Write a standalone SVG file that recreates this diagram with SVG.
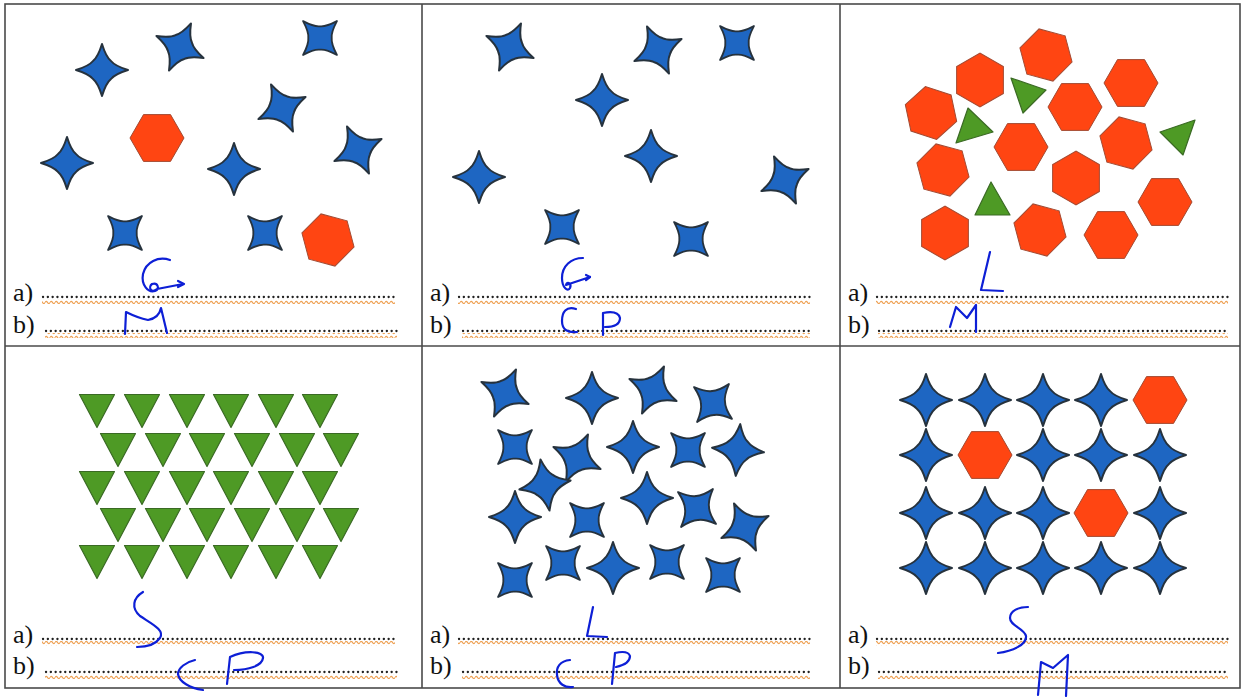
<svg xmlns="http://www.w3.org/2000/svg" width="1242" height="697" viewBox="0 0 1242 697">
<style>
.st{fill:#1E66C2;stroke:#26323d;stroke-width:2;stroke-linejoin:round}
.hx{fill:#FF4512;stroke:#a34a32;stroke-width:1}
.tr{fill:#4E9A25;stroke:#3a6a24;stroke-width:1.2;stroke-linejoin:round}
.lbl{font-family:"Liberation Serif",serif;font-size:26px;fill:#111}
.dots{stroke:#222;stroke-width:2.3;stroke-dasharray:0.1 4.7;stroke-linecap:round}
.ink{fill:none;stroke:#0d1fd6;stroke-width:2.2;stroke-linecap:round;stroke-linejoin:round}
.bd{stroke:#4a4a4a;stroke-width:1.6;fill:none}
</style>
<defs>
<path id="star" d="M0,-26 Q4,-13 9,-9 Q13,-4 26,0 Q13,4 9,9 Q4,13 0,26 Q-4,13 -9,9 Q-13,4 -26,0 Q-13,-4 -9,-9 Q-4,-13 0,-26Z"/>
<polygon id="hex" points="27,0 13.5,23.4 -13.5,23.4 -27,0 -13.5,-23.4 13.5,-23.4"/>
<polygon id="tri" points="-17.5,-16.5 17.5,-16.5 0,16.5"/>
<pattern id="wave" width="5" height="5" patternUnits="userSpaceOnUse">
<path d="M0,2.5 Q1.25,0.3 2.5,2.5 T5,2.5" fill="none" stroke="#eea052" stroke-width="1.2"/>
</pattern>
</defs>
<rect width="1242" height="697" fill="#fff"/>
<g id="grid">
<rect class="bd" x="5" y="4" width="1235" height="684"/>
<line class="bd" x1="422" y1="4" x2="422" y2="688"/>
<line class="bd" x1="840" y1="4" x2="840" y2="688"/>
<line class="bd" x1="5" y1="346" x2="1240" y2="346"/>
</g>
<g id="cell1">
<use href="#star" class="st" transform="translate(102,70)"/>
<use href="#star" class="st" transform="translate(180,47) rotate(25)"/>
<use href="#star" class="st" transform="translate(320,38) rotate(45) scale(0.92)"/>
<use href="#star" class="st" transform="translate(282,108) rotate(-25)"/>
<use href="#hex" class="hx" transform="translate(157,138)"/>
<use href="#star" class="st" transform="translate(67,163)"/>
<use href="#star" class="st" transform="translate(234,169)"/>
<use href="#star" class="st" transform="translate(358,150) rotate(-25)"/>
<use href="#star" class="st" transform="translate(125,233) rotate(45) scale(0.92)"/>
<use href="#star" class="st" transform="translate(265,233) rotate(45) scale(0.92)"/>
<use href="#hex" class="hx" transform="translate(328,240) rotate(15)"/>
</g>
<g id="cell2">
<use href="#star" class="st" transform="translate(510,47) rotate(25)"/>
<use href="#star" class="st" transform="translate(658,50) rotate(-25)"/>
<use href="#star" class="st" transform="translate(737,43) rotate(45) scale(0.92)"/>
<use href="#star" class="st" transform="translate(602,100)"/>
<use href="#star" class="st" transform="translate(651,156)"/>
<use href="#star" class="st" transform="translate(479,177)"/>
<use href="#star" class="st" transform="translate(785,180) rotate(-25)"/>
<use href="#star" class="st" transform="translate(562,227) rotate(45) scale(0.92)"/>
<use href="#star" class="st" transform="translate(691,239) rotate(45) scale(0.92)"/>
</g>
<g id="cell3">
<use href="#hex" class="hx" transform="translate(1046,55) rotate(15)"/>
<use href="#hex" class="hx" transform="translate(980,80) rotate(30)"/>
<use href="#hex" class="hx" transform="translate(1131,83)"/>
<use href="#hex" class="hx" transform="translate(931,113) rotate(18)"/>
<use href="#hex" class="hx" transform="translate(1075,107)"/>
<use href="#hex" class="hx" transform="translate(1021,147)"/>
<use href="#hex" class="hx" transform="translate(1126,143) rotate(15)"/>
<use href="#hex" class="hx" transform="translate(943,170) rotate(15)"/>
<use href="#hex" class="hx" transform="translate(1076,178) rotate(30)"/>
<use href="#hex" class="hx" transform="translate(1165,202)"/>
<use href="#hex" class="hx" transform="translate(945,233) rotate(30)"/>
<use href="#hex" class="hx" transform="translate(1040,230) rotate(15)"/>
<use href="#hex" class="hx" transform="translate(1111,235)"/>
<polygon class="tr" points="1011,78 1046,90 1023,113"/>
<polygon class="tr" points="968,108 993,132 956,143"/>
<polygon class="tr" points="1160,132 1195,120 1183,155"/>
<polygon class="tr" points="991,182 975,215 1010,215"/>
</g>
<g id="cell4">
<use href="#tri" class="tr" transform="translate(97,411)"/>
<use href="#tri" class="tr" transform="translate(142,411)"/>
<use href="#tri" class="tr" transform="translate(187,411)"/>
<use href="#tri" class="tr" transform="translate(231,411)"/>
<use href="#tri" class="tr" transform="translate(276,411)"/>
<use href="#tri" class="tr" transform="translate(320,411)"/>
<use href="#tri" class="tr" transform="translate(118,450)"/>
<use href="#tri" class="tr" transform="translate(163,450)"/>
<use href="#tri" class="tr" transform="translate(207,450)"/>
<use href="#tri" class="tr" transform="translate(252,450)"/>
<use href="#tri" class="tr" transform="translate(297,450)"/>
<use href="#tri" class="tr" transform="translate(341,450)"/>
<use href="#tri" class="tr" transform="translate(97,488)"/>
<use href="#tri" class="tr" transform="translate(142,488)"/>
<use href="#tri" class="tr" transform="translate(187,488)"/>
<use href="#tri" class="tr" transform="translate(231,488)"/>
<use href="#tri" class="tr" transform="translate(276,488)"/>
<use href="#tri" class="tr" transform="translate(320,488)"/>
<use href="#tri" class="tr" transform="translate(118,525)"/>
<use href="#tri" class="tr" transform="translate(163,525)"/>
<use href="#tri" class="tr" transform="translate(207,525)"/>
<use href="#tri" class="tr" transform="translate(252,525)"/>
<use href="#tri" class="tr" transform="translate(297,525)"/>
<use href="#tri" class="tr" transform="translate(341,525)"/>
<use href="#tri" class="tr" transform="translate(97,562)"/>
<use href="#tri" class="tr" transform="translate(142,562)"/>
<use href="#tri" class="tr" transform="translate(187,562)"/>
<use href="#tri" class="tr" transform="translate(231,562)"/>
<use href="#tri" class="tr" transform="translate(276,562)"/>
<use href="#tri" class="tr" transform="translate(320,562)"/>
</g>
<g id="cell5">
<use href="#star" class="st" transform="translate(505,393) rotate(25)"/>
<use href="#star" class="st" transform="translate(592,398)"/>
<use href="#star" class="st" transform="translate(653,390) rotate(25)"/>
<use href="#star" class="st" transform="translate(713,403) rotate(40) scale(0.95)"/>
<use href="#star" class="st" transform="translate(515,447) rotate(45) scale(0.92)"/>
<use href="#star" class="st" transform="translate(577,458) rotate(25)"/>
<use href="#star" class="st" transform="translate(633,447)"/>
<use href="#star" class="st" transform="translate(688,450) rotate(45) scale(0.92)"/>
<use href="#star" class="st" transform="translate(738,450) rotate(5)"/>
<use href="#star" class="st" transform="translate(545,485) rotate(-10)"/>
<use href="#star" class="st" transform="translate(515,517)"/>
<use href="#star" class="st" transform="translate(587,520) rotate(45) scale(0.92)"/>
<use href="#star" class="st" transform="translate(647,498)"/>
<use href="#star" class="st" transform="translate(697,508) rotate(40) scale(0.95)"/>
<use href="#star" class="st" transform="translate(745,527) rotate(-25)"/>
<use href="#star" class="st" transform="translate(515,580) rotate(45) scale(0.92)"/>
<use href="#star" class="st" transform="translate(563,563) rotate(45) scale(0.92)"/>
<use href="#star" class="st" transform="translate(613,568)"/>
<use href="#star" class="st" transform="translate(667,562) rotate(45) scale(0.92)"/>
<use href="#star" class="st" transform="translate(723,575) rotate(45) scale(0.92)"/>
</g>
<g id="cell6">
<use href="#star" class="st" transform="translate(926,400)"/>
<use href="#star" class="st" transform="translate(985,400)"/>
<use href="#star" class="st" transform="translate(1043,400)"/>
<use href="#star" class="st" transform="translate(1101,400)"/>
<use href="#hex" class="hx" transform="translate(1160,400)"/>
<use href="#star" class="st" transform="translate(926,455)"/>
<use href="#hex" class="hx" transform="translate(985,455)"/>
<use href="#star" class="st" transform="translate(1043,455)"/>
<use href="#star" class="st" transform="translate(1101,455)"/>
<use href="#star" class="st" transform="translate(1160,455)"/>
<use href="#star" class="st" transform="translate(926,513)"/>
<use href="#star" class="st" transform="translate(985,513)"/>
<use href="#star" class="st" transform="translate(1043,513)"/>
<use href="#hex" class="hx" transform="translate(1101,513)"/>
<use href="#star" class="st" transform="translate(1160,513)"/>
<use href="#star" class="st" transform="translate(926,568)"/>
<use href="#star" class="st" transform="translate(985,568)"/>
<use href="#star" class="st" transform="translate(1043,568)"/>
<use href="#star" class="st" transform="translate(1101,568)"/>
<use href="#star" class="st" transform="translate(1160,568)"/>
</g>
<g id="answer-lines">
<rect x="42" y="299" width="353" height="5" fill="url(#wave)"/>
<rect x="45" y="333" width="352" height="5" fill="url(#wave)"/>
<rect x="458" y="299" width="352" height="5" fill="url(#wave)"/>
<rect x="462" y="333" width="348" height="5" fill="url(#wave)"/>
<rect x="876" y="299" width="352" height="5" fill="url(#wave)"/>
<rect x="878" y="333" width="350" height="5" fill="url(#wave)"/>
<rect x="42" y="641" width="353" height="5" fill="url(#wave)"/>
<rect x="45" y="674" width="352" height="5" fill="url(#wave)"/>
<rect x="458" y="641" width="352" height="5" fill="url(#wave)"/>
<rect x="462" y="674" width="348" height="5" fill="url(#wave)"/>
<rect x="876" y="641" width="352" height="5" fill="url(#wave)"/>
<rect x="878" y="674" width="350" height="5" fill="url(#wave)"/>
<line class="dots" x1="43" y1="297" x2="395" y2="297"/>
<line class="dots" x1="46" y1="331" x2="397" y2="331"/>
<line class="dots" x1="459" y1="297" x2="810" y2="297"/>
<line class="dots" x1="463" y1="331" x2="810" y2="331"/>
<line class="dots" x1="877" y1="297" x2="1228" y2="297"/>
<line class="dots" x1="879" y1="331" x2="1228" y2="331"/>
<line class="dots" x1="43" y1="639" x2="395" y2="639"/>
<line class="dots" x1="46" y1="672" x2="397" y2="672"/>
<line class="dots" x1="459" y1="639" x2="810" y2="639"/>
<line class="dots" x1="463" y1="672" x2="810" y2="672"/>
<line class="dots" x1="877" y1="639" x2="1228" y2="639"/>
<line class="dots" x1="879" y1="672" x2="1228" y2="672"/>
</g>
<g id="labels">
<text class="lbl" x="13" y="301">a)</text>
<text class="lbl" x="13" y="333">b)</text>
<text class="lbl" x="430" y="301">a)</text>
<text class="lbl" x="430" y="333">b)</text>
<text class="lbl" x="848" y="301">a)</text>
<text class="lbl" x="848" y="333">b)</text>
<text class="lbl" x="13" y="643">a)</text>
<text class="lbl" x="13" y="674">b)</text>
<text class="lbl" x="430" y="643">a)</text>
<text class="lbl" x="430" y="674">b)</text>
<text class="lbl" x="848" y="643">a)</text>
<text class="lbl" x="848" y="674">b)</text>
</g>
<g id="handwriting">
<path class="ink" d="M170,260 C158,256 146,262 143,274 C141,285 148,293 155,291 C160,289 158,282 152,284 C148,287 151,294 157,289 L183,284"/>
<path class="ink" d="M178,281 L184,284 L178,287"/>
<path class="ink" d="M125,334 L126,312 Q138,318 148,320 Q159,318 161,308 L167,333"/>
<path class="ink" d="M583,258 C571,258 562,266 562,278 C562,288 568,292 570,288 C572,283 567,281 566,285 L590,277"/>
<path class="ink" d="M586,275 L590,277 L586,280"/>
<path class="ink" d="M576,309 C566,306 562,312 562,321 C562,330 568,333 577,332"/>
<path class="ink" d="M603,335 L603,313 Q618,310 620,318 Q620,327 605,327"/>
<path class="ink" d="M990,252 L981,290 L1003,291"/>
<path class="ink" d="M950,327 L956,307 L967,318 L976,305 L976,332"/>
<path class="ink" d="M143,592 C133,598 131,608 140,616 C152,624 165,630 160,638 C155,645 145,647 137,647"/>
<path class="ink" d="M195,660 C186,662 178,668 178,674 C179,682 190,688 203,690"/>
<path class="ink" d="M227,684 L230,657 C245,650 264,651 263,658 C262,666 248,670 234,670"/>
<path class="ink" d="M593,607 L587,636 L607,637"/>
<path class="ink" d="M570,660 C560,661 556,667 557,675 C558,684 565,688 573,687"/>
<path class="ink" d="M612,684 L615,653 Q628,650 630,656 Q630,664 616,667"/>
<path class="ink" d="M1028,607 C1018,607 1010,611 1010,618 C1010,626 1024,628 1026,636 C1027,645 1012,651 998,653"/>
<path class="ink" d="M1038,695 L1041,662 L1053,668 L1068,655 L1066,696"/>
</g>
</svg>
